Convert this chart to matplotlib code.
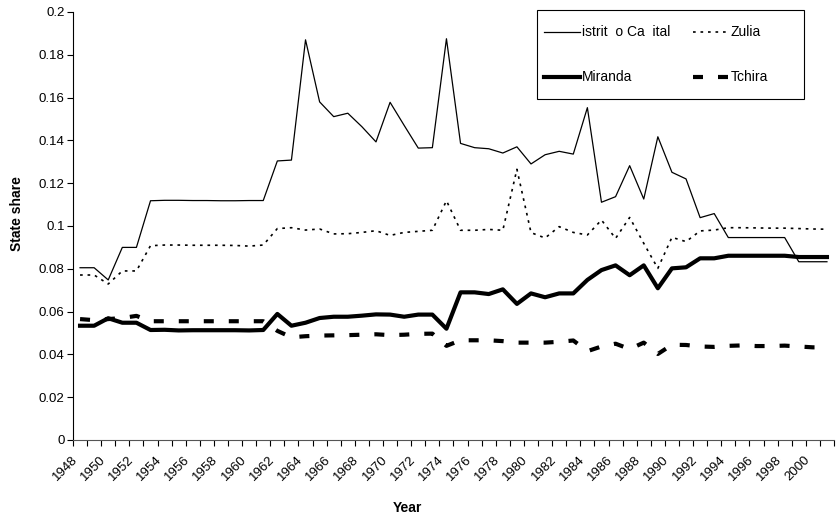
import numpy as np
from matplotlib import pyplot as plt
from matplotlib.lines import Line2D
from matplotlib.patches import Rectangle
from matplotlib.transforms import ScaledTranslation

plt.rcParams['font.family'] = ['Liberation Sans', 'DejaVu Sans']

years = list(range(1948, 2002))

# state shares
distrito = [0.0805, 0.0805, 0.0748, 0.0900, 0.0900, 0.1118, 0.1120, 0.1120, 0.1119, 0.1119,
            0.1118, 0.1118, 0.1119, 0.1119, 0.1304, 0.1308, 0.1870, 0.1580, 0.1511, 0.1527,
            0.1464, 0.1393, 0.1578, 0.1470, 0.1364, 0.1366, 0.1875, 0.1386, 0.1366, 0.1361,
            0.1341, 0.1370, 0.1290, 0.1333, 0.1349, 0.1336, 0.1553, 0.1111, 0.1137, 0.1282,
            0.1126, 0.1417, 0.1251, 0.1220, 0.1039, 0.1058, 0.0946, 0.0946, 0.0946, 0.0946,
            0.0946, 0.0833, 0.0833, 0.0833]
zulia = [0.0771, 0.0771, 0.0729, 0.0790, 0.0790, 0.0908, 0.0911, 0.0911, 0.0910, 0.0910,
         0.0910, 0.0909, 0.0906, 0.0911, 0.0988, 0.0992, 0.0981, 0.0986, 0.0963, 0.0964,
         0.0970, 0.0978, 0.0956, 0.0970, 0.0975, 0.0980, 0.1118, 0.0980, 0.0980, 0.0984,
         0.0980, 0.1265, 0.0969, 0.0944, 0.0997, 0.0970, 0.0958, 0.1028, 0.0942, 0.1040,
         0.0919, 0.0802, 0.0947, 0.0927, 0.0977, 0.0981, 0.0992, 0.0992, 0.0991, 0.0990,
         0.0990, 0.0988, 0.0986, 0.0985]
miranda = [0.0534, 0.0534, 0.0569, 0.0548, 0.0548, 0.0514, 0.0515, 0.0512, 0.0513, 0.0513,
           0.0513, 0.0513, 0.0512, 0.0514, 0.0589, 0.0534, 0.0548, 0.0570, 0.0576, 0.0576,
           0.0581, 0.0587, 0.0586, 0.0576, 0.0586, 0.0586, 0.0520, 0.0690, 0.0690, 0.0682,
           0.0704, 0.0636, 0.0685, 0.0667, 0.0685, 0.0685, 0.0748, 0.0794, 0.0816, 0.0770,
           0.0816, 0.0709, 0.0802, 0.0807, 0.0849, 0.0849, 0.0861, 0.0861, 0.0861, 0.0861,
           0.0861, 0.0855, 0.0855, 0.0855]
tachira = [0.0565, 0.0560, 0.0565, 0.0570, 0.0580, 0.0555, 0.0555, 0.0555, 0.0555, 0.0555,
           0.0555, 0.0555, 0.0555, 0.0555, 0.0510, 0.0480, 0.0485, 0.0488, 0.0489, 0.0490,
           0.0492, 0.0494, 0.0490, 0.0492, 0.0496, 0.0497, 0.0440, 0.0466, 0.0466, 0.0466,
           0.0462, 0.0455, 0.0455, 0.0455, 0.0459, 0.0465, 0.0415, 0.0437, 0.0450, 0.0425,
           0.0455, 0.0402, 0.0445, 0.0444, 0.0437, 0.0435, 0.0440, 0.0442, 0.0439, 0.0439,
           0.0441, 0.0437, 0.0433, 0.0433]
labels = ['istrit  o Ca  ital', 'Zulia', 'Miranda', 'Tchira']

W, H = 837, 516
x = np.arange(len(years))

styles = [dict(lw=0.9, linestyle='-'),
          dict(lw=1.2, linestyle=(0, (1.6, 2.9))),
          dict(lw=3, linestyle='-'),
          dict(lw=3, linestyle=(0, (2.4, 3.6)), dash_capstyle='butt')]

fig = plt.figure(figsize=(W/100, H/100), dpi=100)
ax = fig.add_axes([73/W, 76/H, 761/W, 428/H])

for vals, st in zip([distrito, zulia, miranda, tachira], styles):
    ax.plot(x, vals, color='k', **st)

ax.set_xlim(-0.5, len(years) - 0.5)
ax.set_ylim(0, 0.2)
yt = np.arange(0, 0.201, 0.02)
ax.set_yticks(yt)
ax.set_yticklabels(['0'] + ['%g' % round(v, 2) for v in yt[1:]])
ax.tick_params(axis='y', direction='out', length=4, width=0.8, pad=2, labelsize=9.5)

ax.set_xticks(x[::2])
ax.set_xticklabels([str(y) for y in years[::2]], rotation=45, ha='right', va='top',
                   rotation_mode='anchor')
ax.set_xticks(np.arange(-0.5, len(years)), minor=True)
ax.tick_params(axis='x', which='major', length=0, pad=10, labelsize=9.5)
ax.tick_params(axis='x', which='minor', direction='out', length=4, width=0.8)
shift = ScaledTranslation(-9/100, 0, fig.dpi_scale_trans)
for lab in ax.get_xticklabels():
    lab.set_transform(lab.get_transform() + shift)

for s in ['top', 'right']:
    ax.spines[s].set_visible(False)
ax.spines['left'].set_linewidth(0.8)
ax.spines['bottom'].set_linewidth(0.8)
ax.spines['bottom'].set_color('#555555')

ax.set_ylabel('State share', fontsize=10, fontweight='bold')
ax.yaxis.set_label_coords(-0.065, 0.53)
ax.set_xlabel('Year', fontsize=10, fontweight='bold')
ax.xaxis.set_label_coords(0.44, -0.143)

# legend box, drawn in figure pixels (y measured from top)
def fx(px):
    return px / W

def fy(py):
    return 1 - py / H

fig.add_artist(Rectangle((fx(537), fy(99)), fx(804) - fx(537), fy(10) - fy(99),
                         fill=False, edgecolor='k', lw=0.8, transform=fig.transFigure))
slots = [(544, 32), (693, 32), (544, 77), (693, 77)]
for (lx, ly), lab, st in zip(slots, labels, styles):
    fig.add_artist(Line2D([fx(lx), fx(lx + 36)], [fy(ly), fy(ly)], color='k',
                          transform=fig.transFigure, **st))
    fig.text(fx(lx + 38), fy(ly), lab, fontsize=10, va='center', ha='left')

fig.savefig('out.png', dpi=100)
